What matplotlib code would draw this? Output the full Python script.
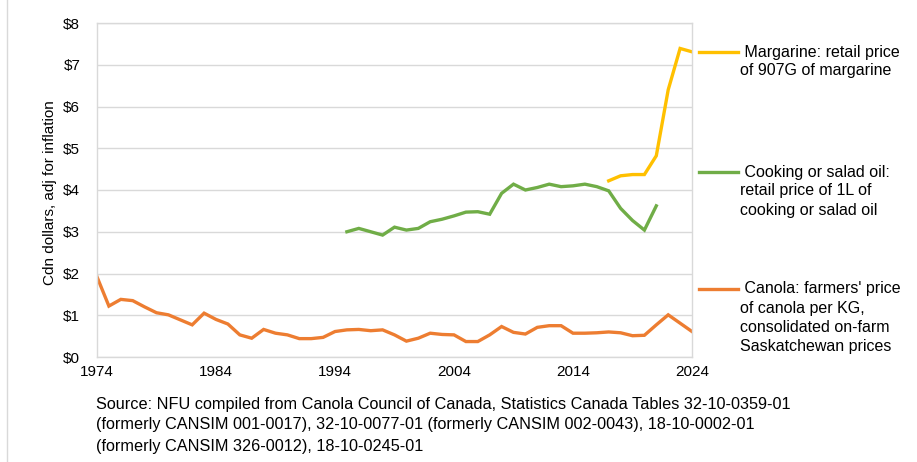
import matplotlib
matplotlib.use("Agg")
import matplotlib.pyplot as plt
from matplotlib.lines import Line2D

plt.rcParams['font.family'] = ['Liberation Sans', 'DejaVu Sans']

# canola farmers' price per kg, 1974-2024
canola_years = list(range(1974, 2025))
canola = [1.92, 1.22, 1.38, 1.35, 1.20, 1.06, 1.01, 0.89, 0.77, 1.05,
          0.90, 0.79, 0.53, 0.45, 0.66, 0.57, 0.53, 0.44, 0.44, 0.47,
          0.61, 0.65, 0.66, 0.63, 0.65, 0.53, 0.38, 0.45, 0.57, 0.54,
          0.53, 0.37, 0.37, 0.53, 0.73, 0.59, 0.55, 0.71, 0.75, 0.75,
          0.57, 0.57, 0.58, 0.60, 0.58, 0.51, 0.52, 0.77, 1.01, 0.81,
          0.61]

# cooking or salad oil, 1L, 1995-2021
oil_years = list(range(1995, 2022))
oil = [3.00, 3.08, 3.00, 2.92, 3.11, 3.04, 3.08, 3.24, 3.30, 3.38,
       3.47, 3.48, 3.42, 3.92, 4.14, 4.00, 4.06, 4.14, 4.08, 4.10,
       4.14, 4.08, 3.98, 3.56, 3.27, 3.04, 3.62]

# margarine 907G, 2017-2024
marg_years = list(range(2017, 2025))
margarine = [4.22, 4.34, 4.37, 4.37, 4.82, 6.40, 7.39, 7.31]

xticks = [1974, 1984, 1994, 2004, 2014, 2024]
yticks = [0, 1, 2, 3, 4, 5, 6, 7, 8]

c_marg = '#FFC000'
c_oil = '#70AD47'
c_canola = '#ED7D31'
grid_c = '#D9D9D9'

W, H = 917, 462
fig = plt.figure(figsize=(W / 100, H / 100), dpi=100)
ax = fig.add_axes([97 / W, 1 - 357 / H, (692 - 97) / W, (357 - 23) / H])

lw = 2.4
ax.plot(canola_years, canola, color=c_canola, lw=lw, solid_joinstyle='miter')
ax.plot(oil_years, oil, color=c_oil, lw=lw, solid_joinstyle='miter')
ax.plot(marg_years, margarine, color=c_marg, lw=lw, solid_joinstyle='miter')

ax.set_xlim(1974, 2024)
ax.set_ylim(0, 8)
ax.set_xticks(xticks)
ax.set_yticks(yticks)
ax.set_yticklabels(['$%d' % v for v in yticks])
ax.tick_params(length=0, labelsize=11, colors='black')
ax.tick_params(axis='x', pad=6)
ax.tick_params(axis='y', pad=12)
ax.grid(axis='y', color=grid_c, lw=1)
ax.set_axisbelow(True)
for s in ax.spines.values():
    s.set_color(grid_c)
    s.set_linewidth(1)

fig.text(50 / W, 1 - 193 / H, 'Cdn dollars, adj for inflation', rotation=90,
         ha='center', va='center', fontsize=11)

# legend entries placed beside the plot
def px(x, y):
    return x / W, 1 - y / H

entries = [
    (c_marg, 52, [' Margarine: retail price', 'of 907G of margarine']),
    (c_oil, 172, [' Cooking or salad oil:', 'retail price of 1L of', 'cooking or salad oil']),
    (c_canola, 289, [' Canola: farmers\' price', 'of canola per KG,',
                     'consolidated on-farm', 'Saskatchewan prices']),
]
for col, ly, lines in entries:
    x0, y0 = px(699, ly)
    x1, _ = px(738, ly)
    fig.add_artist(Line2D([x0, x1], [y0, y0], color=col, lw=lw, transform=fig.transFigure))
    for i, t in enumerate(lines):
        tx, ty = px(740, ly + i * 19)
        fig.text(tx, ty, t, ha='left', va='center', fontsize=11.5)

src = ['Source: NFU compiled from Canola Council of Canada, Statistics Canada Tables 32-10-0359-01',
       '(formerly CANSIM 001-0017), 32-10-0077-01 (formerly CANSIM 002-0043), 18-10-0002-01',
       '(formerly CANSIM 326-0012), 18-10-0245-01']
for i, t in enumerate(src):
    tx, ty = px(96, 404 + i * 21)
    fig.text(tx, ty, t, ha='left', va='center', fontsize=11.7)

# thin border at left edge of the screenshot
fig.add_artist(Line2D([7 / W, 7 / W], [0, 1], color=grid_c, lw=1, transform=fig.transFigure))

fig.savefig('out.png', dpi=100)
